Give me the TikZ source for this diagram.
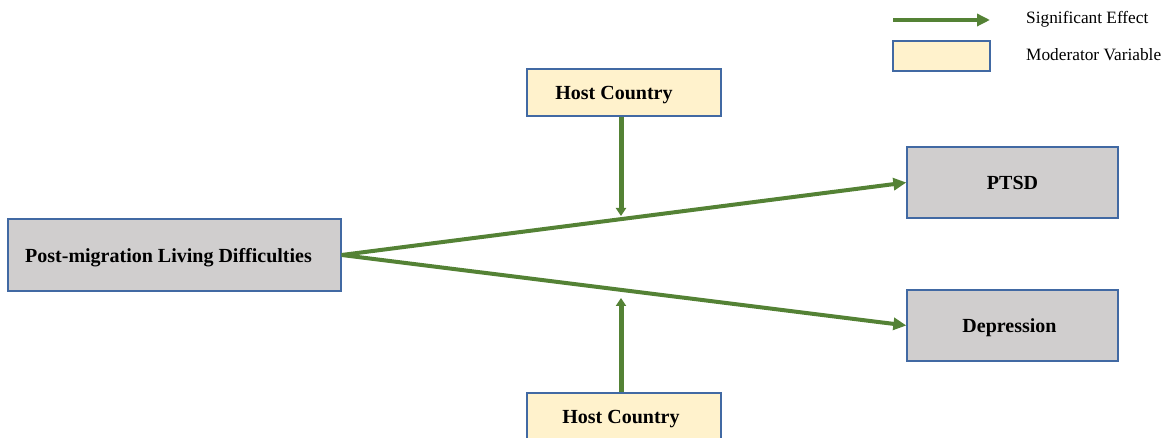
\documentclass[tikz,border=0pt]{standalone}
\usepackage{fontspec}
\setmainfont{Liberation Serif}
\usetikzlibrary{arrows.meta}

\definecolor{effgreen}{HTML}{548235}
\definecolor{boxblue}{HTML}{4169A3}
\definecolor{vargray}{HTML}{D0CECE}
\definecolor{modyellow}{HTML}{FFF2CC}

\begin{document}
\begin{tikzpicture}
[x=1pt,y=1pt,
 var/.style={draw=boxblue,line width=1.3pt,fill=vargray,font=\fontsize{20}{23}\selectfont\bfseries,inner sep=0pt,text depth=0pt},
 moder/.style={draw=boxblue,line width=1.3pt,fill=modyellow,font=\fontsize{20}{23}\selectfont\bfseries,inner sep=0pt,text depth=0pt,minimum width=194pt,minimum height=47pt},
 effect/.style={draw=effgreen,line width=4pt,-{Triangle[length=13pt,width=12pt]}},
 moderate/.style={draw=effgreen,line width=5pt,-{Triangle[length=8pt,width=10pt]}},
 legtext/.style={font=\fontsize{17.3}{20}\selectfont,anchor=west,inner sep=0pt}]

\useasboundingbox (0,0) rectangle (1167,438);

%Variables
\node (pmld) at (174.5,183)[var,minimum width=333pt,minimum height=72pt] {Post-migration Living Difficulties\hspace*{12pt}};
\node (ptsd) at (1012.5,255.5)[var,minimum width=211pt,minimum height=71pt] {PTSD};
\node (dep) at (1012.5,112.5)[var,minimum width=211pt,minimum height=71pt] {Depression\hspace*{6pt}};

%Moderators
\node (hcup) at (624,345.5)[moder] {Host Country\hspace*{20pt}};
\node (hcdown) at (624,21.5)[moder] {Host Country\hspace*{6pt}};

%Points on the paths
\coordinate (mup) at (621,222);
\coordinate (mdown) at (621,140);

%Effects
\draw[effect] (pmld.east) -- (ptsd.west);
\draw[effect] (pmld.east) -- (dep.west);
\draw[moderate] (hcup.south -| mup) -- (mup);
\draw[moderate] (hcdown.north -| mdown) -- (mdown);

%Legend
\coordinate (la) at (893,418);
\coordinate (lb) at (990,418);
\draw[effect] (la) -- (lb);
\node (lbox) at (941.5,382)[draw=boxblue,line width=1.3pt,fill=modyellow,minimum width=97pt,minimum height=30pt,inner sep=0pt] {};
\node (lsig) at (1026,419)[legtext] {Significant Effect};
\node (lmod) at (1026,383)[legtext] {Moderator Variable};

\end{tikzpicture}
\end{document}
